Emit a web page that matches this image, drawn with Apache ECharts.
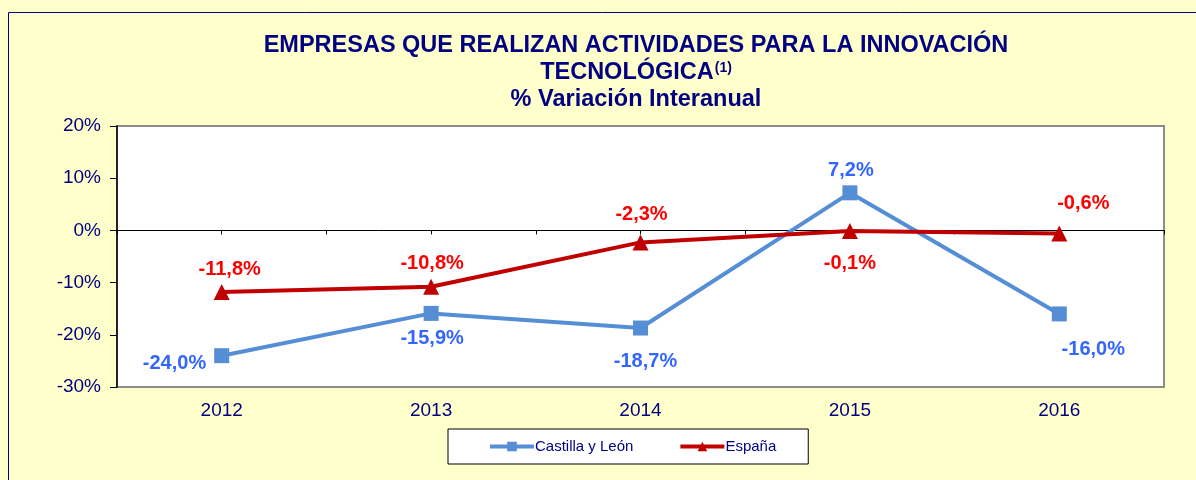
<!DOCTYPE html>
<html>
<head>
<meta charset="utf-8">
<script src="https://cdn.jsdelivr.net/npm/echarts@6/dist/echarts.min.js"></script>
<style>
  html, body { margin: 0; padding: 0; background: #FFFFCC; }
  #chart { width: 1196px; height: 480px; }
</style>
</head>
<body>
<div id="chart"></div>
<script>
// datos
const years = ['2012', '2013', '2014', '2015', '2016'];
const castilla = [-24.0, -15.9, -18.7, 7.2, -16.0];
const espana = [-11.8, -10.8, -2.3, -0.1, -0.6];
const yTicks = { min: -30, max: 20, step: 10 };

const FONT = 'Liberation Sans, Arial, sans-serif';
const NAVY = '#000080';

// posicion de las etiquetas de cada punto
const castillaLabelPos = [
  { position: 'left', offset: [0, 8] },
  { position: 'bottom', offset: [1, 0] },
  { position: 'bottom', offset: [5, 8] },
  { position: 'top', offset: [1, 3] },
  { position: 'bottom', offset: [34, 10] }
];
const espanaLabelPos = [
  { position: 'top', offset: [8, 3] },
  { position: 'top', offset: [1, 3] },
  { position: 'top', offset: [1, -2] },
  { position: 'bottom', offset: [0, 7] },
  { position: 'top', offset: [24, -4] }
];

const fmt = v => v.toFixed(1).replace('.', ',') + '%';

const makeData = (values, pos) => values.map((v, i) => ({
  value: v,
  label: { position: pos[i].position, offset: pos[i].offset }
}));

const chart = echarts.init(document.getElementById('chart'));

const option = {
  backgroundColor: '#FFFFCC',
  animation: false,
  textStyle: { fontFamily: FONT },
  graphic: [{
    type: 'rect',
    shape: { x: 8.5, y: 12.5, width: 1300, height: 600 },
    style: { fill: 'none', stroke: NAVY, lineWidth: 1 },
    z: -10
  }],
  title: [
    {
      text: 'EMPRESAS QUE REALIZAN ACTIVIDADES PARA LA INNOVACIÓN',
      left: 631, top: 29, textAlign: 'center',
      textStyle: { fontFamily: FONT, fontSize: 23.5, fontWeight: 'bold', color: NAVY }
    },
    {
      text: '{m|TECNOLÓGICA}{s|(1)}',
      left: 631, top: 56, textAlign: 'center',
      textStyle: {
        rich: {
          m: { fontFamily: FONT, fontSize: 23.5, fontWeight: 'bold', color: NAVY },
          s: { fontFamily: FONT, fontSize: 14, fontWeight: 'bold', color: NAVY, verticalAlign: 'top', padding: [0, 0, 8, 1] }
        }
      }
    },
    {
      text: '% Variación Interanual',
      left: 631, top: 83, textAlign: 'center',
      textStyle: { fontFamily: FONT, fontSize: 23.5, fontWeight: 'bold', color: NAVY }
    }
  ],
  legend: {
    left: 448, top: 429,
    padding: [10, 32, 10, 40],
    itemWidth: 44, itemHeight: 12, itemGap: 45,
    backgroundColor: '#FFFFFF',
    borderColor: '#000000', borderWidth: 1,
    lineStyle: { width: 4 },
    textStyle: { fontFamily: FONT, fontSize: 15, color: NAVY, padding: [0, 0, 0, -4] },
    data: ['Castilla y León', 'España']
  },
  grid: {
    left: 117, top: 126, right: 32, bottom: 93,
    show: true, backgroundColor: '#FFFFFF',
    borderColor: '#8C8C8C', borderWidth: 2
  },
  xAxis: [
    {
      type: 'category',
      data: years,
      axisLine: { onZero: false, show: false },
      axisTick: { show: false },
      axisLabel: { fontFamily: FONT, fontSize: 19, color: NAVY, margin: 14 }
    },
    {
      // linea del cero con marcas
      type: 'value',
      min: -0.5, max: 4.5, interval: 0.5,
      position: 'bottom',
      axisLine: { onZero: true, lineStyle: { color: '#000000', width: 1 } },
      axisTick: { length: 4, lineStyle: { color: '#000000' } },
      axisLabel: { show: false },
      splitLine: { show: false }
    }
  ],
  yAxis: {
    type: 'value',
    min: yTicks.min, max: yTicks.max, interval: yTicks.step,
    axisLine: { show: true, onZero: false, lineStyle: { color: '#000000', width: 1.5 } },
    axisTick: { show: true, length: 7, lineStyle: { color: '#000000' } },
    splitLine: { show: false },
    axisLabel: { fontFamily: FONT, fontSize: 19, color: NAVY, margin: 16, formatter: '{value}%' }
  },
  series: [
    {
      name: 'Castilla y León',
      type: 'line',
      xAxisIndex: 0,
      data: makeData(castilla, castillaLabelPos),
      symbol: 'rect', symbolSize: 15,
      itemStyle: { color: '#558ED5' },
      lineStyle: { color: '#558ED5', width: 4 },
      label: {
        show: true, distance: 8,
        fontFamily: FONT, fontSize: 20, fontWeight: 'bold', color: '#3366FF',
        formatter: p => fmt(p.value)
      },
      z: 3
    },
    {
      name: 'España',
      type: 'line',
      xAxisIndex: 0,
      data: makeData(espana, espanaLabelPos),
      symbol: 'triangle', symbolSize: 16,
      itemStyle: { color: '#C00000' },
      lineStyle: { color: '#C00000', width: 4 },
      label: {
        show: true, distance: 8,
        fontFamily: FONT, fontSize: 20, fontWeight: 'bold', color: '#FF0000',
        formatter: p => fmt(p.value)
      },
      z: 4
    }
  ]
};

chart.setOption(option);
</script>
</body>
</html>
